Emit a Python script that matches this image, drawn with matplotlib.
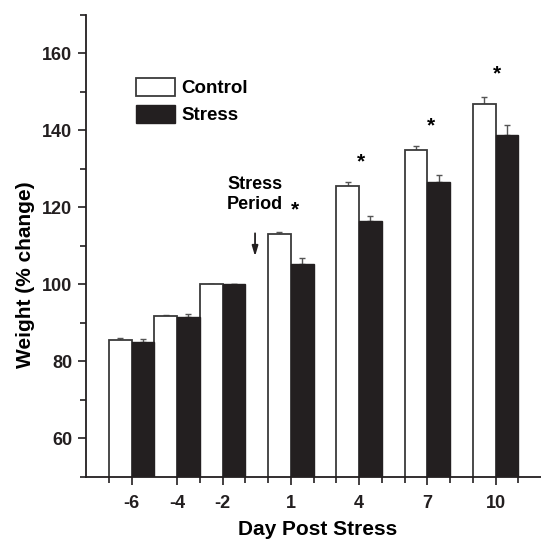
import numpy as np
import matplotlib.pyplot as plt
from matplotlib.ticker import FixedLocator

plt.rcParams['font.family'] = ['Liberation Sans', 'DejaVu Sans']
plt.rcParams['font.weight'] = 'bold'

days = [-6, -4, -2, 1, 4, 7, 10]
control = [85.5, 91.8, 100.0, 113.2, 125.5, 134.8, 146.8]
control_err = [0.5, 0.2, 0.0, 0.5, 1.1, 1.1, 1.8]
stress = [85.0, 91.6, 100.0, 105.4, 116.4, 126.5, 138.7]
stress_err = [0.9, 0.8, 0.0, 1.4, 1.5, 1.9, 2.6]

star_days = [1.2, 4.07, 7.17, 10.06]
star_y = [119.3, 131.8, 141.2, 154.7]

x = np.array(days, dtype=float)
zeros = np.zeros(len(days))

fig = plt.figure(figsize=(5.41, 5.45), dpi=100)
ax = fig.add_axes([0.159, 0.125, 0.841, 0.8475])

ax.bar(x - 0.5, control, width=1.0, color='white', edgecolor='#3a3a3a',
       linewidth=1.3, label='Control', zorder=2)
ax.bar(x + 0.5, stress, width=1.0, color='#231f20', edgecolor='#231f20',
       linewidth=1.0, label='Stress', zorder=2)
ax.errorbar(x - 0.5, control, yerr=[zeros, control_err], fmt='none',
            ecolor='#555555', elinewidth=1.0, capsize=2.5, capthick=1.0, zorder=1)
ax.errorbar(x + 0.5, stress, yerr=[zeros, stress_err], fmt='none',
            ecolor='#555555', elinewidth=1.0, capsize=2.5, capthick=1.0, zorder=1)

for sx, sy in zip(star_days, star_y):
    ax.text(sx, sy, '*', ha='center', va='center', fontsize=15, fontweight='bold')

ax.text(-1.8, 123.4, 'Stress\nPeriod', ha='left', va='center', fontsize=13,
        fontweight='bold', linespacing=1.25)
ax.annotate('', xy=(-0.57, 106.6), xytext=(-0.57, 114.0),
            arrowprops=dict(arrowstyle='-|>,head_length=0.6,head_width=0.18',
                            color='#231f20', lw=1.3))

ax.set_xlim(-8, 12)
ax.set_ylim(50, 170)
ax.set_xticks(days)
ax.set_xticklabels([str(d) for d in days])
minor_x = [d for d in range(-7, 12) if d not in days and d != -5]
ax.xaxis.set_minor_locator(FixedLocator(minor_x))
ax.set_yticks([60, 80, 100, 120, 140, 160])
ax.yaxis.set_minor_locator(FixedLocator([50, 70, 90, 110, 130, 150, 170]))

for side in ['top', 'right']:
    ax.spines[side].set_visible(False)
for side in ['left', 'bottom']:
    ax.spines[side].set_linewidth(1.3)
    ax.spines[side].set_color('#231f20')

ax.tick_params(which='major', direction='out', length=6, width=1.2,
               labelsize=13, colors='#231f20', pad=4)
ax.tick_params(axis='x', which='major', pad=7)
ax.tick_params(which='minor', direction='out', length=4, width=1.2, colors='#231f20')

ax.set_xlabel('Day Post Stress', fontsize=15, fontweight='bold')
ax.set_ylabel('Weight (% change)', fontsize=15, fontweight='bold')
ax.xaxis.set_label_coords(0.508, -0.094)
ax.yaxis.set_label_coords(-0.112, 0.437)

ax.legend(loc='upper left', bbox_to_anchor=(0.11, 0.864), frameon=False,
          fontsize=13.5, handlelength=2.1, handleheight=1.1, handletextpad=0.3,
          labelspacing=0.4, borderpad=0, borderaxespad=0)

fig.savefig('out.png', dpi=100)
